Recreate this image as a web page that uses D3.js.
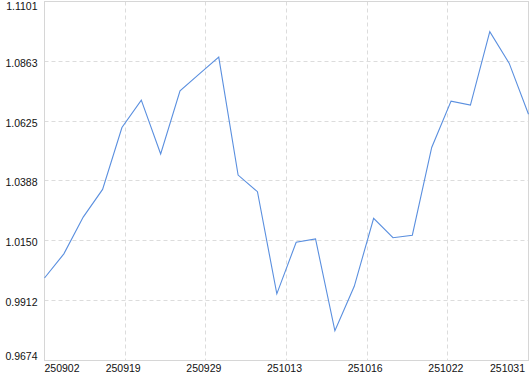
<!DOCTYPE html>
<html>
<head>
<meta charset="utf-8">
<script src="https://cdn.jsdelivr.net/npm/d3@7"></script>
<style>
  body { margin: 0; background: #fff; }
  text { font-family: "Liberation Sans", Arial, sans-serif; font-size: 10.5px; fill: #111; }
</style>
</head>
<body>
<svg id="chart" width="530" height="374"></svg>
<script>
// valores (uno por dia de cotizacion)
var values = [1.0002, 1.0098, 1.0244, 1.0354, 1.0600, 1.0709, 1.0495, 1.0746, 1.0813, 1.0880,
              1.0411, 1.0345, 0.9939, 1.0144, 1.0157, 0.9792, 0.9969, 1.0239, 1.0162, 1.0172,
              1.0521, 1.0705, 1.0689, 1.0981, 1.0856, 1.0653];
// etiquetas del eje x (fechas)
var xTickLabels = ["250902", "250919", "250929", "251013", "251016", "251022", "251031"];
// marcas del eje y
var yTicks = [1.1101, 1.0863, 1.0625, 1.0388, 1.0150, 0.9912, 0.9674];

var svg = d3.select("#chart"),
    margin = {top: 1.5, right: 1.5, bottom: 13.5, left: 44.5},
    width = +svg.attr("width") - margin.left - margin.right,
    height = +svg.attr("height") - margin.top - margin.bottom,
    g = svg.append("g").attr("transform", "translate(" + margin.left + "," + margin.top + ")");

var x = d3.scaleLinear()
    .domain([0, values.length - 1])
    .range([0, width]);

var y = d3.scaleLinear()
    .domain([d3.min(yTicks), d3.max(yTicks)])
    .range([height, 0]);

var n = xTickLabels.length - 1;
var xTicks = xTickLabels.map(function(d, i) { return i * (values.length - 1) / n; });

// rejilla horizontal
g.append("g")
    .selectAll("line")
    .data(yTicks)
    .enter().append("line")
      .attr("x1", 0)
      .attr("x2", width)
      .attr("y1", function(d) { return Math.round(y(d)); })
      .attr("y2", function(d) { return Math.round(y(d)); })
      .attr("stroke", "#dcdcdc")
      .attr("stroke-dasharray", "4,3");

// rejilla vertical
g.append("g")
    .selectAll("line")
    .data(xTicks)
    .enter().append("line")
      .attr("x1", function(d) { return Math.round(x(d)); })
      .attr("x2", function(d) { return Math.round(x(d)); })
      .attr("y1", 0)
      .attr("y2", height)
      .attr("stroke", "#dcdcdc")
      .attr("stroke-dasharray", "4,3");

// marco
g.append("rect")
    .attr("width", width)
    .attr("height", height)
    .attr("fill", "none")
    .attr("stroke", "#d6d6d6");

// etiquetas eje y
g.append("g")
    .selectAll("text")
    .data(yTicks)
    .enter().append("text")
      .attr("x", -7)
      .attr("y", function(d, i) {
        if (i == 0) return 8.5;
        if (i == yTicks.length - 1) return height - 1;
        return y(d) + 5.4;
      })
      .attr("text-anchor", "end")
      .text(function(d) { return d.toFixed(4); });

// etiquetas eje x
g.append("g")
    .selectAll("text")
    .data(xTicks)
    .enter().append("text")
      .attr("x", function(d, i) {
        if (i == 0) return 0;
        if (i == n) return x(d) - 3.5;
        return x(d) - 2;
      })
      .attr("y", height + 11.5)
      .attr("text-anchor", function(d, i) { return i == 0 ? "start" : (i == n ? "end" : "middle"); })
      .text(function(d, i) { return xTickLabels[i]; });

// serie
var line = d3.line()
    .x(function(d, i) { return x(i); })
    .y(function(d) { return y(d); });

g.append("path")
    .datum(values)
    .attr("fill", "none")
    .attr("stroke", "#5a8fdf")
    .attr("stroke-width", 1.1)
    .attr("d", line);
</script>
</body>
</html>
